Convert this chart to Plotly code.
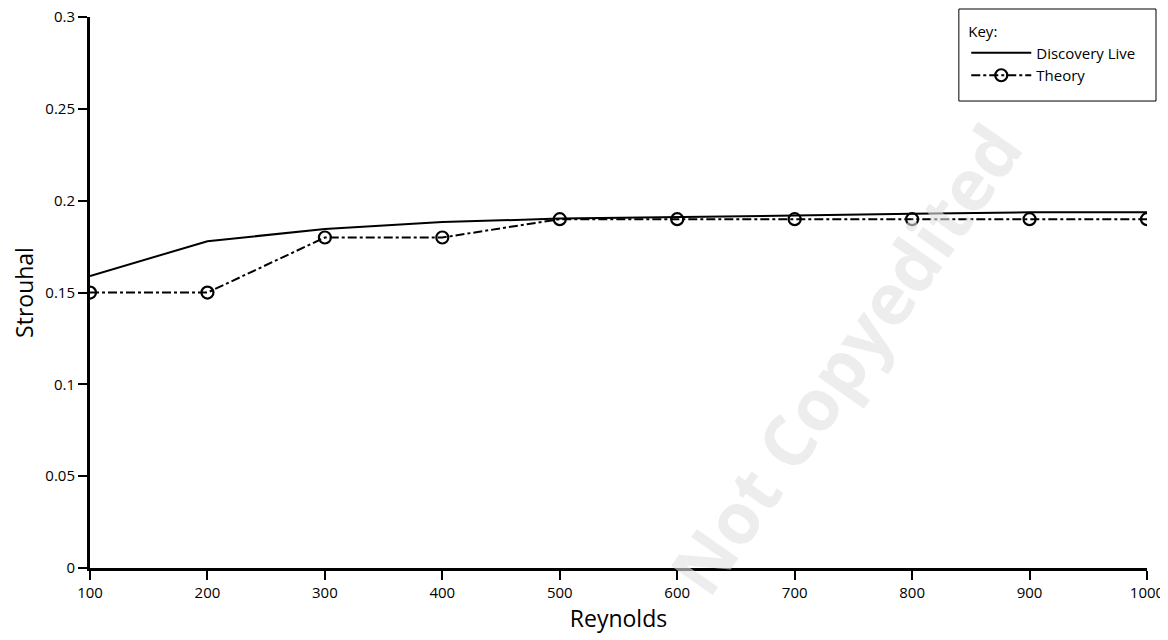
import plotly.graph_objects as go

reynolds = [100, 200, 300, 400, 500, 600, 700, 800, 900, 1000]
discovery_live = [0.159, 0.178, 0.1846, 0.1884, 0.1903, 0.191, 0.192, 0.193, 0.1937, 0.1938]
theory = [0.15, 0.15, 0.18, 0.18, 0.19, 0.19, 0.19, 0.19, 0.19, 0.19]
y_ticks = [0, 0.05, 0.1, 0.15, 0.2, 0.25, 0.3]
y_tick_text = ["0", "0.05", "0.1", "0.15", "0.2", "0.25", "0.3"]

FONT = "Open Sans, Liberation Sans, sans-serif"

fig = go.Figure()
fig.add_trace(go.Scatter(
    x=reynolds, y=discovery_live, mode="lines", name="Discovery Live",
    line=dict(color="black", width=2)))
fig.add_trace(go.Scatter(
    x=reynolds, y=theory, mode="lines+markers", name="Theory",
    line=dict(color="black", width=2, dash="dashdot"),
    marker=dict(symbol="circle-open", size=12, color="black", line=dict(width=2.2))))

# watermark
fig.add_annotation(
    text="<b>Not Copyedited</b>", x=0.714, y=0.38, xref="paper", yref="paper",
    xanchor="center", yanchor="middle",
    showarrow=False, textangle=-55,
    font=dict(family=FONT, size=71, color="rgba(225,225,225,0.6)"))

# legend box
fig.add_shape(type="rect", xref="paper", yref="paper",
              x0=0.822, x1=1.0085, y0=0.8475, y1=1.0145,
              line=dict(color="black", width=1), fillcolor="white", layer="above")

fig.update_layout(
    width=1160, height=632,
    margin=dict(l=82, r=21, t=9, b=72),
    paper_bgcolor="white", plot_bgcolor="white",
    font=dict(family=FONT, color="black", size=15),
    showlegend=True,
    legend=dict(
        x=0.829, y=1.0, xanchor="left", yanchor="top",
        borderwidth=0, bgcolor="rgba(0,0,0,0)",
        title=dict(text="Key:", font=dict(size=15)),
        font=dict(size=15), tracegroupgap=0, itemwidth=60,
    ),
    xaxis=dict(
        range=[100, 1000], tickvals=reynolds, showgrid=False, zeroline=False,
        showline=True, linecolor="black", linewidth=3, automargin=False,
        ticks="outside", ticklen=9, tickwidth=2, tickcolor="black",
        title=dict(text="Reynolds", font=dict(size=23), standoff=0),
        tickfont=dict(size=15), ticklabeloverflow="allow",
    ),
    yaxis=dict(
        range=[0, 0.3001], tickvals=y_ticks, ticktext=y_tick_text,
        showgrid=False, zeroline=False, automargin=False,
        showline=True, linecolor="black", linewidth=3,
        ticks="outside", ticklen=9, tickwidth=2, tickcolor="black",
        title=dict(text="Strouhal", font=dict(size=23), standoff=10),
        tickfont=dict(size=15), ticklabeloverflow="allow",
    ),
)

fig.write_html("out.html")
